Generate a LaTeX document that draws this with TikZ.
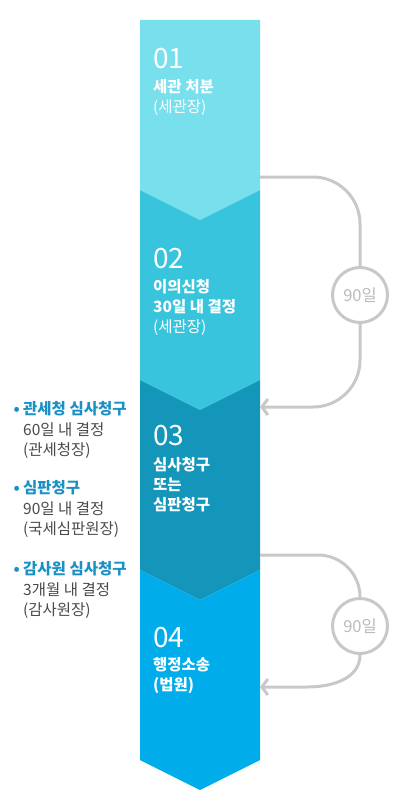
\documentclass[tikz,border=0pt]{standalone}
\usepackage{fontspec}
\setmainfont{Noto Sans CJK KR}
\usetikzlibrary{arrows.meta, positioning}

\definecolor{stepA}{HTML}{78DFED}
\definecolor{stepB}{HTML}{38C4DD}
\definecolor{stepC}{HTML}{1396BA}
\definecolor{stepD}{HTML}{00ADEA}
\definecolor{noteblue}{HTML}{1A91C4}
\definecolor{notegray}{HTML}{4A4A4A}
\definecolor{loopgray}{HTML}{C8C8C8}
\definecolor{daygray}{HTML}{BBBBBB}

\begin{document}
\begin{tikzpicture}[
    x=1pt, y=-1pt,
    num/.style={anchor=base west, inner sep=0pt, text=white, font=\fontsize{28}{28}\selectfont},
    lbl/.style={anchor=north west, inner sep=0pt, align=left, text=white, font=\fontsize{15.5}{20}\selectfont},
    note/.style={anchor=base west, inner sep=0pt, text=noteblue, font=\fontsize{15.5}{20}\selectfont\bfseries},
    sub/.style={anchor=north west, inner sep=0pt, align=left, text=notegray, font=\fontsize{15.5}{20}\selectfont},
    day/.style={circle, draw=loopgray, line width=3pt, fill=white, minimum size=55pt, inner sep=0pt, text=daygray, font=\fontsize{16.5}{16.5}\selectfont},
    loop/.style={draw=loopgray, line width=3pt},
    back/.style={-{Straight Barb[length=6pt, width=16pt]}}
]
    \useasboundingbox (0,0) rectangle (400,800);

    % column
    \fill[stepA] (140,20) -- (260,20) -- (260,190) -- (200,220) -- (140,190) -- cycle;
    \foreach \c/\t in {stepB/190, stepC/380, stepD/570}
        \fill[\c] (140,\t) -- (200,\t+30) -- (260,\t) -- (260,\t+190) -- (200,\t+220) -- (140,\t+190) -- cycle;

    \node[num] (n1) at (153,68) {01};
    \node[lbl, below=11pt of n1.south west, anchor=north west] (t1) {\textbf{세관 처분}\\(세관장)};
    \node[num] (n2) at (153,268) {02};
    \node[lbl, below=11pt of n2.south west, anchor=north west] (t2) {\textbf{이의신청}\\\textbf{30일 내 결정}\\(세관장)};
    \node[num] (n3) at (153,445) {03};
    \node[lbl, below=12pt of n3.south west, anchor=north west] (t3) {\textbf{심사청구}\\\textbf{또는}\\\textbf{심판청구}};
    \node[num] (n4) at (153,647) {04};
    \node[lbl, below=10pt of n4.south west, anchor=north west] (t4) {\textbf{행정소송}\\\textbf{(법원)}};

    % left notes
    \node[note] (a1) at (23,414) {관세청 심사청구};
    \node[note, anchor=base east] (a1b) at ([xshift=-3pt]a1.base west) {•};
    \node[sub, below=7pt of a1.south west, anchor=north west] (a1t) {60일 내 결정\\(관세청장)};
    \node[note] (a2) at (23,493) {심판청구};
    \node[note, anchor=base east] (a2b) at ([xshift=-3pt]a2.base west) {•};
    \node[sub, below=7pt of a2.south west, anchor=north west] (a2t) {90일 내 결정\\(국세심판원장)};
    \node[note] (a3) at (23,574) {감사원 심사청구};
    \node[note, anchor=base east] (a3b) at ([xshift=-3pt]a3.base west) {•};
    \node[sub, below=7pt of a3.south west, anchor=north west] (a3t) {3개월 내 결정\\(감사원장)};

    % 90 day loops
    \coordinate (s1) at (260,177);
    \node[day] (d1) at (360,295) {90일};
    \coordinate (e1) at (260,407);
    \draw[loop, rounded corners=47pt] (s1) -| (d1.north);
    \draw[loop, back, rounded corners=47pt] (d1.south) |- (e1);

    \coordinate (s2) at (260,555);
    \node[day] (d2) at (360,626) {90일};
    \coordinate (e2) at (260,687);
    \draw[loop, rounded corners=42pt] (s2) -| (d2.north);
    \draw[loop, back] (d2.south) to[out=-90, in=0] ([xshift=47pt]e2) -- (e2);
\end{tikzpicture}
\end{document}
